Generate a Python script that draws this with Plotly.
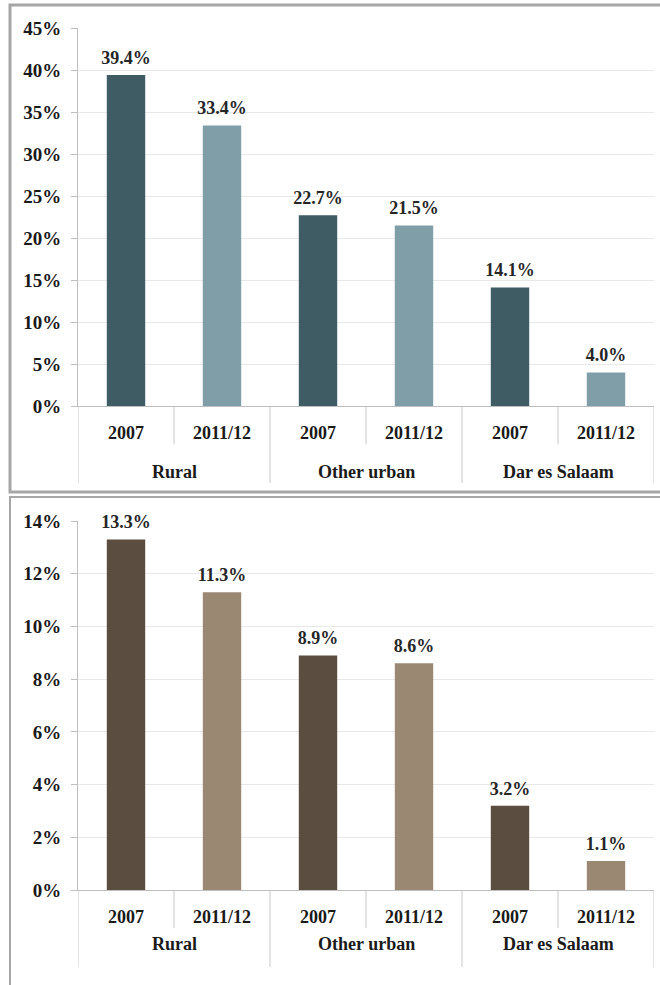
import plotly.graph_objects as go

areas = ["Rural", "Other urban", "Dar es Salaam"]
years = ["2007", "2011/12"]
top_values = [39.4, 33.4, 22.7, 21.5, 14.1, 4.0]
bottom_values = [13.3, 11.3, 8.9, 8.6, 3.2, 1.1]
top_ticks = [0, 5, 10, 15, 20, 25, 30, 35, 40, 45]
bottom_ticks = [0, 2, 4, 6, 8, 10, 12, 14]

top_colors = ["#3f5b64", "#7f9ea8"] * 3
bottom_colors = ["#5b4d3f", "#9b8872"] * 3

W, H = 660, 985
FONT = "Liberation Serif"

cats = [f"{a}|{y}" for a in areas for y in years]
cat_years = [y for a in areas for y in years]

fig = go.Figure()


def px(yp):
    return 1 - yp / H


def add_panel(values, colors, xa, ya):
    fig.add_trace(go.Bar(
        x=cats, y=values, marker=dict(color=colors, line=dict(width=0)),
        width=0.4, xaxis=xa, yaxis=ya, hoverinfo="skip"))
    fig.add_trace(go.Scatter(
        x=cats, y=values, mode="markers+text",
        marker=dict(size=9, color="rgba(0,0,0,0)"),
        text=[f"{v:.1f}%" for v in values], textposition="top center",
        textfont=dict(family=FONT, size=18, color="#262626", weight="bold"),
        xaxis=xa, yaxis=ya, cliponaxis=False, hoverinfo="skip"))


add_panel(top_values, top_colors, "x", "y")
add_panel(bottom_values, bottom_colors, "x2", "y2")

x0, x1 = 78 / W, 654 / W

axis_x = dict(
    type="category", showgrid=False, zeroline=False, automargin=False,
    showline=True, linecolor="#bfbfbf", linewidth=1,
    ticks="", tickvals=cats, ticktext=cat_years, ticklabelstandoff=10,
    tickfont=dict(family=FONT, size=18, color="#1a1a1a", weight="bold"),
    domain=[x0, x1], range=[-0.5, 5.5],
)
axis_y = dict(
    showgrid=True, gridcolor="#e8e8e8", gridwidth=1, zeroline=False,
    showline=True, linecolor="#bfbfbf", linewidth=1, automargin=False,
    ticks="outside", ticklen=6, tickcolor="#bfbfbf",
    tickfont=dict(family=FONT, size=19, color="#1a1a1a", weight="bold"),
    ticklabelstandoff=6,
)

fig.update_layout(
    width=W, height=H, margin=dict(l=0, r=0, t=0, b=0, autoexpand=False),
    paper_bgcolor="white", plot_bgcolor="white", showlegend=False,
    xaxis=dict(axis_x, anchor="y"),
    yaxis=dict(axis_y, range=[0, 45], tickvals=top_ticks,
               ticktext=[f"{t}%" for t in top_ticks],
               domain=[px(406), px(28)], anchor="x"),
    xaxis2=dict(axis_x, anchor="y2"),
    yaxis2=dict(axis_y, range=[0, 14], tickvals=bottom_ticks,
                ticktext=[f"{t}%" for t in bottom_ticks],
                domain=[px(890), px(521)], anchor="x2"),
)

# separators and group labels of the two-level category axis
for xa, base in (("x", 406), ("x2", 890)):
    for b in [-0.5, 1.5, 3.5, 5.5]:
        fig.add_shape(type="line", xref=xa, yref="paper", x0=b, x1=b,
                      y0=px(base + 77), y1=px(base),
                      line=dict(color="#c8c8c8", width=1))
    for b in [0.5, 2.5, 4.5]:
        fig.add_shape(type="line", xref=xa, yref="paper", x0=b, x1=b,
                      y0=px(base + 38), y1=px(base),
                      line=dict(color="#c8c8c8", width=1))
    for i, a in enumerate(areas):
        fig.add_annotation(text=a, xref=xa, yref="paper", x=2 * i + 0.5,
                           y=px(base + 66), showarrow=False,
                           font=dict(family=FONT, size=18, color="#1a1a1a", weight="bold"))

fig.add_shape(type="rect", xref="paper", yref="paper",
              x0=10 / W, x1=1.02, y0=px(492), y1=px(5),
              line=dict(color="#a6a6a6", width=3), layer="above")
fig.add_shape(type="rect", xref="paper", yref="paper",
              x0=10 / W, x1=1.02, y0=-0.02, y1=px(497),
              line=dict(color="#a6a6a6", width=2), layer="above")

fig.write_html("out.html", config={"displayModeBar": False},
               post_script="document.body.style.margin='0';")
